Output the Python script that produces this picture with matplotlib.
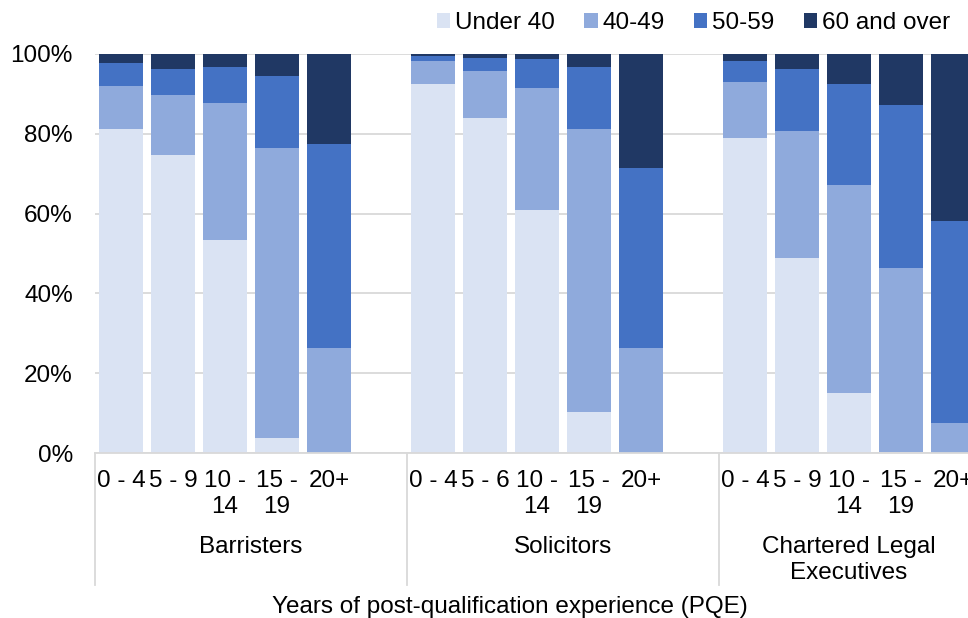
import numpy as np
import matplotlib
matplotlib.use("Agg")
import matplotlib.pyplot as plt
import matplotlib.transforms as mtransforms
from matplotlib.patches import Patch

plt.rcParams['font.family'] = ['Liberation Sans', 'DejaVu Sans']

# data (percent of each PQE band)
groups = ["Barristers", "Solicitors", "Chartered Legal\nExecutives"]
bands = [
    ["0 - 4", "5 - 9", "10 -\n14", "15 -\n19", "20+"],
    ["0 - 4", "5 - 6", "10 -\n14", "15 -\n19", "20+"],
    ["0 - 4", "5 - 9", "10 -\n14", "15 -\n19", "20+"],
]
series = ["Under 40", "40-49", "50-59", "60 and over"]
colors = ["#DAE3F3", "#8FAADC", "#4472C4", "#203864"]

under_40 = [81.2, 74.6, 53.5, 3.7, 0.0,
            92.6, 84.0, 61.0, 10.3, 0.0,
            78.9, 48.8, 15.0, 0.2, 0.0]
age_40_49 = [10.8, 15.1, 34.3, 72.8, 26.2,
             5.6, 11.7, 30.6, 70.9, 26.2,
             14.1, 31.9, 52.2, 46.2, 7.4]
age_50_59 = [5.7, 6.5, 8.9, 17.9, 51.2,
             1.4, 3.4, 7.1, 15.5, 45.2,
             5.2, 15.5, 25.3, 40.9, 50.7]
age_60_plus = [2.3, 3.8, 3.3, 5.6, 22.6,
               0.4, 0.9, 1.3, 3.3, 28.6,
               1.8, 3.8, 7.5, 12.7, 41.9]
values = [under_40, age_40_49, age_50_59, age_60_plus]

FS = 17.5
W, H = 968, 618
fig = plt.figure(figsize=(W / 100, H / 100), dpi=100)
# plot area in pixels: x 95..1031 (runs off the right edge like the original), y 54..453
ax = fig.add_axes([95 / W, (H - 453) / H, 936 / W, 399 / H])

slots_per_group = 6
x = np.array([g * slots_per_group + i for g in range(len(groups)) for i in range(5)])

bottom = np.zeros(len(x))
for name, vals, col in zip(series, values, colors):
    vals = np.array(vals)
    ax.bar(x, vals, bottom=bottom, width=0.83, color=col, label=name, zorder=2)
    bottom += vals

ax.set_xlim(-0.5, len(groups) * slots_per_group - 0.5)
ax.set_ylim(0, 100)
ax.set_yticks(np.arange(0, 101, 20))
ax.set_yticklabels([f"{v}%" for v in range(0, 101, 20)], fontsize=FS)
ax.tick_params(axis='y', length=0, pad=16, colors='#000000')
ax.set_xticks([])
ax.grid(axis='y', color='#d9d9d9', linewidth=1.3, zorder=0)
for s in ['top', 'right', 'left']:
    ax.spines[s].set_visible(False)
ax.spines['bottom'].set_color('#d9d9d9')
ax.spines['bottom'].set_linewidth(1.3)

trans = mtransforms.blended_transform_factory(ax.transData, ax.transAxes)


def py(p):
    # pixel row in the image -> axes fraction
    return -(p - 453) / 399


# band labels, line by line
for g, labels in enumerate(bands):
    for i, lab in enumerate(labels):
        for k, line in enumerate(lab.split("\n")):
            ax.text(g * slots_per_group + i, py(487 + 26 * k), line, transform=trans,
                    ha='center', va='baseline', fontsize=FS, clip_on=False)

# group labels
group_x = [2.5, 8.5, 14.0]
for gx, name in zip(group_x, groups):
    for k, line in enumerate(name.split("\n")):
        ax.text(gx, py(553 + 26 * k), line, transform=trans,
                ha='center', va='baseline', fontsize=FS, clip_on=False)

# separators between the groups
for g in range(len(groups)):
    sx = g * slots_per_group - 0.5
    ax.plot([sx, sx], [0, py(585)], transform=trans, color='#d9d9d9',
            linewidth=1.3, clip_on=False)

fig.text(509.5 / W, 5 / H, "Years of post-qualification experience (PQE)",
         ha='center', va='baseline', fontsize=FS)

handles = [Patch(facecolor=c, edgecolor='none') for c in colors]
fig.legend(handles, series, loc='center right', bbox_to_anchor=(950 / W, 1 - 23 / H),
           ncol=4, frameon=False, fontsize=FS, handlelength=0.55, handleheight=0.55,
           handletextpad=0.2, columnspacing=1.2, borderpad=0, borderaxespad=0)

fig.savefig("out.png", dpi=100)
